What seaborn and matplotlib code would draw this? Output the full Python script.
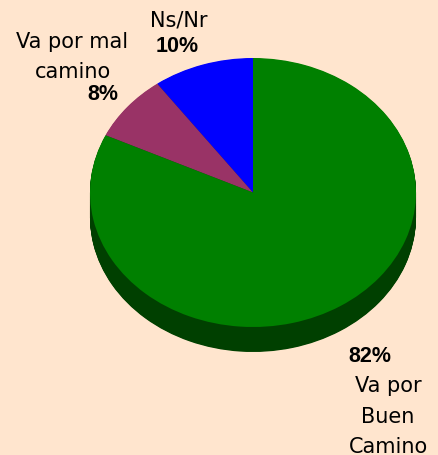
import numpy as np
import matplotlib
matplotlib.use('Agg')
import matplotlib.pyplot as plt
import seaborn as sns

# data
labels = ['Ns/Nr', 'Va por mal camino', 'Va por Buen Camino']
shares = [10, 8, 82]
top_colors = ['#0000FF', '#993366', '#008000']
side_colors = ['#000080', '#4D1A33', '#004000']

sns.set_style('white')
bg = '#FFE5CE'

fig = plt.figure(figsize=(4.38, 4.56), dpi=100, facecolor=bg)
ax = fig.add_axes([0, 0, 1, 1])
ax.set_facecolor(bg)

# pie geometry in pixels: centre (253, 193.5), rx 163, ry 134.5, depth 25
cx, cy, rx, ry, depth_px = 253, 193.5, 163, 134.5, 25
depth = depth_px / ry

# extruded side: stack darker copies of the pie below the top face
for off in np.linspace(depth, 0, 40)[:-1]:
    ax.pie(shares, colors=side_colors, startangle=90, counterclock=True,
           radius=1, center=(0, -off), wedgeprops=dict(linewidth=0))

ax.pie(shares, colors=top_colors, startangle=90, counterclock=True,
       radius=1, center=(0, 0), wedgeprops=dict(linewidth=0))

ax.set_aspect('auto')
ax.set_xlim(-cx / rx, (438 - cx) / rx)
ax.set_ylim(-(456 - cy) / ry, cy / ry)
ax.axis('off')


def put(x, y, s, bold=False):
    fam = 'Liberation Sans' if bold else 'DejaVu Sans'
    fig.text(x / 438, 1 - y / 456, s, ha='center', va='baseline',
             fontsize=15.5 if bold else 15,
             fontweight='bold' if bold else 'normal',
             family=fam, color='black')


put(179, 27, 'Ns/Nr')
put(177, 52, f'{shares[0]}%', bold=True)
put(72, 48, 'Va por mal')
put(73, 78, 'camino')
put(103, 100, f'{shares[1]}%', bold=True)
put(370, 362, f'{shares[2]}%', bold=True)
put(388, 392, 'Va por')
put(388, 423, 'Buen')
put(388, 453, 'Camino')

fig.savefig('out.png', dpi=100, facecolor=bg)
